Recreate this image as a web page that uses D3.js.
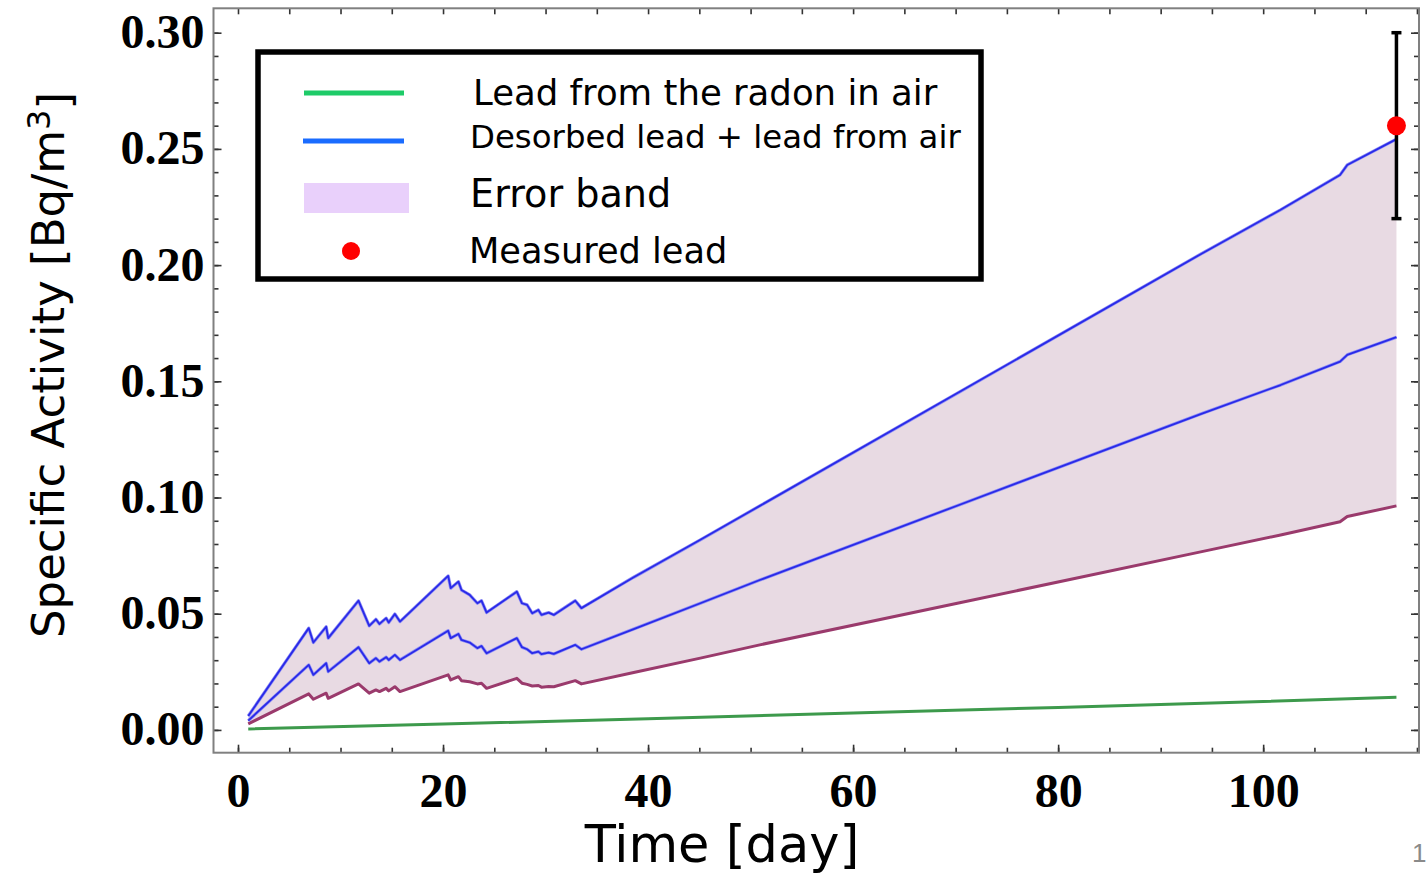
<!DOCTYPE html>
<html>
<head>
<meta charset="utf-8">
<script src="https://cdn.jsdelivr.net/npm/d3@7"></script>
<style>
  html, body { margin: 0; padding: 0; background: #ffffff; }
  svg { display: block; }
</style>
</head>
<body>
<svg id="chart" width="1426" height="876"></svg>
<script>
// ---- data -------------------------------------------------------------
// Days at which the modelled curves are sampled (shared by the three model curves)
const days = [1, 6.9, 7.35, 8.6, 8.8, 11.75, 12.8, 13.45, 13.8, 14.45, 14.7, 15.3, 15.8,
  20.5, 20.75, 21.5, 21.8, 22.6, 23.35, 23.75, 24.25, 27.2, 27.7, 28.2, 28.7, 29.3, 29.6,
  30.3, 30.8, 32.9, 33.5, 38.6, 45.1, 50.9, 70.4, 93.9, 101.7, 107.5, 108.2, 113];

// Upper edge of the error band (desorbed lead + lead from air, high estimate)
const upperValues = [0.0060, 0.0438, 0.0376, 0.0444, 0.0395, 0.0556, 0.0448, 0.0476, 0.0456,
  0.0481, 0.0462, 0.0499, 0.0466, 0.0663, 0.0610, 0.0638, 0.0602, 0.0581, 0.0545, 0.0556,
  0.0505, 0.0595, 0.0545, 0.0538, 0.0502, 0.0516, 0.0495, 0.0505, 0.0495, 0.0556, 0.0524,
  0.0657, 0.0818, 0.0964, 0.1455, 0.2047, 0.2238, 0.2388, 0.2431, 0.2542];

// Central estimate: desorbed lead + lead from air
const centralValues = [0.0040, 0.0280, 0.0237, 0.0287, 0.0251, 0.0356, 0.0287, 0.0309, 0.0294,
  0.0313, 0.0301, 0.0323, 0.0301, 0.0427, 0.0395, 0.0413, 0.0387, 0.0376, 0.0352, 0.0361,
  0.0330, 0.0395, 0.0356, 0.0347, 0.0330, 0.0337, 0.0326, 0.0333, 0.0327, 0.0366, 0.0347,
  0.0434, 0.0545, 0.0645, 0.0969, 0.1359, 0.1484, 0.1585, 0.1614, 0.1690];

// Lower edge of the error band
const lowerValues = [0.0026, 0.0155, 0.0132, 0.0158, 0.0136, 0.0198, 0.0158, 0.0172, 0.0165,
  0.0179, 0.0168, 0.0186, 0.0165, 0.0237, 0.0215, 0.0229, 0.0212, 0.0207, 0.0198, 0.0201,
  0.0179, 0.0222, 0.0201, 0.0196, 0.0189, 0.0191, 0.0184, 0.0187, 0.0186, 0.0212, 0.0198,
  0.0247, 0.0309, 0.0366, 0.0547, 0.0766, 0.0839, 0.0896, 0.0918, 0.0964];

// Lead grown in from the radon in air
const airDays = [1, 20, 40, 60, 80, 100, 113];
const airValues = [0.0004, 0.0025, 0.0048, 0.0073, 0.0097, 0.0122, 0.0141];

// Measured lead at the end of the exposure
const measuredDay = 113;
const measuredValue = 0.26;
const measuredError = 0.04;

// Axis ticks
const xMajorTicks = [0, 20, 40, 60, 80, 100];
const xMinorTicks = d3.range(0, 116, 5);
const yMajorTicks = [0.00, 0.05, 0.10, 0.15, 0.20, 0.25, 0.30];
const yMinorTicks = d3.range(0, 31).map(i => i / 100);

// Legend entries
const legendLabels = ["Lead from the radon in air", "Desorbed lead + lead from air", "Error band", "Measured lead"];

// ---- layout -----------------------------------------------------------
const svg = d3.select("#chart");
const frame = { left: 213.5, right: 1419, top: 8.3, bottom: 752.7 };

const x = d3.scaleLinear().domain([-2.39, 115.2]).range([frame.left, frame.right]);
const y = d3.scaleLinear().domain([-0.0098, 0.3105]).range([frame.bottom, frame.top]);

const tickFont = "'Liberation Serif', 'Times New Roman', serif";
const sansFont = "'DejaVu Sans', 'Verdana', sans-serif";

// ---- error band and curves -------------------------------------------
const band = d3.area()
  .x((d, i) => x(days[i]))
  .y0((d, i) => y(lowerValues[i]))
  .y1((d, i) => y(upperValues[i]));

svg.append("path")
  .datum(days)
  .attr("d", band)
  .attr("fill", "#e8dae3");

const lineFrom = (xs, ys) => d3.line()
  .x((d, i) => x(xs[i]))
  .y((d, i) => y(ys[i]))(xs);

// lower edge of the band
svg.append("path")
  .attr("d", lineFrom(days, lowerValues))
  .attr("fill", "none")
  .attr("stroke", "#9a3a6c")
  .attr("stroke-width", 3)
  .attr("stroke-linejoin", "round");

// central and upper model curves
[centralValues, upperValues].forEach(vals => {
  svg.append("path")
    .attr("d", lineFrom(days, vals))
    .attr("fill", "none")
    .attr("stroke", "#8f8ff5")
    .attr("stroke-width", 3.2)
    .attr("stroke-linejoin", "round");
  svg.append("path")
    .attr("d", lineFrom(days, vals))
    .attr("fill", "none")
    .attr("stroke", "#2a2ae8")
    .attr("stroke-width", 1.8)
    .attr("stroke-linejoin", "round");
});

// lead from radon in air
svg.append("path")
  .attr("d", lineFrom(airDays, airValues))
  .attr("fill", "none")
  .attr("stroke", "#3d9a4c")
  .attr("stroke-width", 3);

// ---- measured point with error bar -----------------------------------
const mx = x(measuredDay);
const errG = svg.append("g").attr("stroke", "#000").attr("stroke-width", 3.5);
errG.append("line")
  .attr("x1", mx).attr("x2", mx)
  .attr("y1", y(measuredValue - measuredError)).attr("y2", y(measuredValue + measuredError));
[measuredValue - measuredError, measuredValue + measuredError].forEach(v => {
  errG.append("line")
    .attr("x1", mx - 5).attr("x2", mx + 5)
    .attr("y1", y(v)).attr("y2", y(v));
});
svg.append("circle")
  .attr("cx", mx).attr("cy", y(measuredValue)).attr("r", 9.5)
  .attr("fill", "#ff0000");

// ---- axes and frame ---------------------------------------------------
function styleAxis(g) {
  g.select(".domain").remove();
  g.selectAll(".tick line").attr("stroke", "#333").attr("stroke-width", 1.6);
}

// bottom
svg.append("g")
  .attr("transform", `translate(0,${frame.bottom})`)
  .call(d3.axisBottom(x).tickValues(xMinorTicks).tickSize(-5).tickFormat(""))
  .call(styleAxis);
svg.append("g")
  .attr("transform", `translate(0,${frame.bottom})`)
  .call(d3.axisBottom(x).tickValues(xMajorTicks).tickSize(-8).tickPadding(20).tickFormat(d3.format("d")))
  .call(styleAxis)
  .call(g => g.selectAll("text")
    .attr("font-family", tickFont).attr("font-weight", "bold")
    .attr("font-size", 48).attr("fill", "#000"));

// top
svg.append("g")
  .attr("transform", `translate(0,${frame.top})`)
  .call(d3.axisTop(x).tickValues(xMinorTicks).tickSize(-6).tickFormat(""))
  .call(styleAxis);

// left
svg.append("g")
  .attr("transform", `translate(${frame.left},0)`)
  .call(d3.axisLeft(y).tickValues(yMinorTicks).tickSize(-5).tickFormat(""))
  .call(styleAxis);
svg.append("g")
  .attr("transform", `translate(${frame.left},0)`)
  .call(d3.axisLeft(y).tickValues(yMajorTicks).tickSize(-8).tickPadding(9).tickFormat(d3.format(".2f")))
  .call(styleAxis)
  .call(g => g.selectAll("text")
    .attr("font-family", tickFont).attr("font-weight", "bold")
    .attr("font-size", 48).attr("fill", "#000").attr("dy", "0.31em"));

// right
svg.append("g")
  .attr("transform", `translate(${frame.right},0)`)
  .call(d3.axisRight(y).tickValues(yMinorTicks).tickSize(-5).tickFormat(""))
  .call(styleAxis);
svg.append("g")
  .attr("transform", `translate(${frame.right},0)`)
  .call(d3.axisRight(y).tickValues(yMajorTicks).tickSize(-8).tickFormat(""))
  .call(styleAxis);

svg.append("rect")
  .attr("x", frame.left).attr("y", frame.top)
  .attr("width", frame.right - frame.left).attr("height", frame.bottom - frame.top)
  .attr("fill", "none").attr("stroke", "#808080").attr("stroke-width", 2);

// ---- axis titles ------------------------------------------------------
svg.append("text")
  .attr("x", 722).attr("y", 862)
  .attr("text-anchor", "middle")
  .attr("font-family", sansFont).attr("font-size", 51).attr("fill", "#000")
  .text("Time [day]");

const yTitle = svg.append("text")
  .attr("transform", "translate(64,365) rotate(-90)")
  .attr("text-anchor", "middle")
  .attr("font-family", sansFont).attr("font-size", 45).attr("fill", "#000");
yTitle.append("tspan").text("Specific Activity [Bq/m");
yTitle.append("tspan").attr("dy", "-0.45em").attr("font-size", 32).text("3");
yTitle.append("tspan").attr("dy", "0.45em").text("]");

// ---- legend -----------------------------------------------------------
const legend = svg.append("g");
legend.append("rect")
  .attr("x", 258).attr("y", 52).attr("width", 723).attr("height", 227)
  .attr("fill", "#ffffff").attr("stroke", "#000").attr("stroke-width", 5.5);

legend.append("line")
  .attr("x1", 304).attr("x2", 404).attr("y1", 93).attr("y2", 93)
  .attr("stroke", "#1ecb68").attr("stroke-width", 5);
legend.append("line")
  .attr("x1", 303).attr("x2", 404).attr("y1", 141).attr("y2", 141)
  .attr("stroke", "#1a6cff").attr("stroke-width", 5);
legend.append("rect")
  .attr("x", 304).attr("y", 183).attr("width", 105).attr("height", 30)
  .attr("fill", "#e9d0fb");
legend.append("circle")
  .attr("cx", 351).attr("cy", 251).attr("r", 9)
  .attr("fill", "#ff0000");

const legendText = [
  { x: 473, y: 105, size: 35.5 },
  { x: 470, y: 148, size: 32.4 },
  { x: 470, y: 207, size: 38.2 },
  { x: 469, y: 263, size: 35.2 }
];
legend.selectAll("text.entry")
  .data(legendLabels)
  .join("text")
  .attr("class", "entry")
  .attr("x", (d, i) => legendText[i].x)
  .attr("y", (d, i) => legendText[i].y)
  .attr("font-family", sansFont)
  .attr("font-size", (d, i) => legendText[i].size)
  .attr("fill", "#000")
  .text(d => d);

// slide page number
svg.append("text")
  .attr("x", 1412).attr("y", 862)
  .attr("font-family", "'Liberation Sans', Arial, sans-serif")
  .attr("font-size", 26).attr("fill", "#8a8a8a")
  .text("1");
</script>
</body>
</html>
